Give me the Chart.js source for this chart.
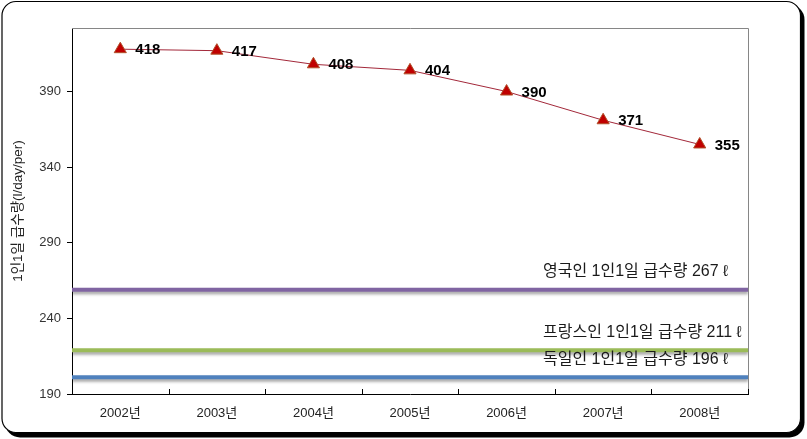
<!DOCTYPE html>
<html>
<head>
<meta charset="utf-8">
<script src="https://cdn.jsdelivr.net/npm/chart.js@4/dist/chart.umd.min.js"></script>
<style>
  html, body { margin: 0; padding: 0; background: #fff; }
  #wrap { width: 807px; height: 439px; position: relative; }
</style>
</head>
<body>
<div id="wrap"><canvas id="chart"></canvas></div>
<script>
'use strict';

/* data */
const YEARS = ['2002년', '2003년', '2004년', '2005년', '2006년', '2007년', '2008년'];
const SUPPLY = [418, 417, 408, 404, 390, 371, 355];
const Y_TICKS = [190, 240, 290, 340, 390];
const Y_MIN = 190;
const Y_MAX = 432;

// 비교 기준선: 그림에 그려진 높이 / 라벨 문구
const REF_LABELS = ['영국인 1인1일 급수량 267 ℓ', '프랑스인 1인1일 급수량 211 ℓ', '독일인 1인1일 급수량 196 ℓ'];
const REF_LEVELS = [259, 219, 201];
const REF_COLORS = ['#8064A2', '#9BBB59', '#4F81BD'];

const FONT = "'Liberation Sans', 'Noto Sans CJK KR', sans-serif";

/* ── frame with rounded corners + heavy shadow on right/bottom ── */
const framePlugin = {
  id: 'frame',
  beforeDraw(chart) {
    const ctx = chart.ctx;
    ctx.save();
    ctx.fillStyle = '#fff';
    ctx.fillRect(0, 0, chart.width, chart.height);
    ctx.fillStyle = '#000';
    ctx.beginPath();
    ctx.roundRect(5, 4.5, 799.5, 433, 15);
    ctx.fill();
    ctx.fillStyle = '#fff';
    ctx.strokeStyle = '#000';
    ctx.lineWidth = 1.2;
    ctx.beginPath();
    ctx.roundRect(2, 1.5, 798.5, 431, 14);
    ctx.fill();
    ctx.stroke();
    ctx.restore();
  },
  afterDraw(chart) {
    const { ctx, chartArea: a, scales } = chart;
    ctx.save();
    // plot border top/right in grey
    ctx.strokeStyle = '#868686';
    ctx.lineWidth = 1;
    ctx.beginPath();
    ctx.moveTo(a.left, a.top + 0.5);
    ctx.lineTo(a.right + 0.5, a.top + 0.5);
    ctx.lineTo(a.right + 0.5, a.bottom);
    ctx.stroke();
    // inward tick marks between categories
    const x = scales.x;
    ctx.strokeStyle = '#000';
    ctx.beginPath();
    for (let i = 0; i <= YEARS.length; i++) {
      const px = Math.round(x.getPixelForValue(i - 0.5)) + 0.5;
      ctx.moveTo(px, a.bottom);
      ctx.lineTo(px, a.bottom - 5);
    }
    ctx.stroke();
    ctx.restore();
  },
};

/* ── soft shadow under the reference lines ── */
const shadowPlugin = {
  id: 'refShadow',
  beforeDatasetDraw(chart, args) {
    if (args.index === 0) return;
    const ctx = chart.ctx;
    ctx.save();
    ctx.shadowColor = 'rgba(0,0,0,0.35)';
    ctx.shadowBlur = 3;
    ctx.shadowOffsetY = 2.5;
  },
  afterDatasetDraw(chart, args) {
    if (args.index === 0) return;
    chart.ctx.restore();
  },
};

/* ── value labels and reference captions ── */
const labelPlugin = {
  id: 'labels',
  afterDatasetsDraw(chart) {
    const { ctx, chartArea: a } = chart;
    ctx.save();
    ctx.textBaseline = 'middle';
    ctx.textAlign = 'left';
    ctx.fillStyle = '#000';
    ctx.font = "bold 15px 'Liberation Sans', Arial, sans-serif";
    chart.getDatasetMeta(0).data.forEach((pt, i) => {
      ctx.fillText(String(SUPPLY[i]), pt.x + 15, pt.y + 1);
    });
    ctx.font = "16px " + FONT;
    ctx.fillStyle = '#1a1a1a';
    REF_LABELS.forEach((txt, i) => {
      const py = chart.scales.y.getPixelForValue(REF_LEVELS[i]);
      ctx.fillText(txt, a.left + 471, py - 18);
    });
    ctx.restore();
  },
};

const refDatasets = REF_LEVELS.map((v, i) => ({
  type: 'line',
  label: REF_LABELS[i],
  xAxisID: 'xr',
  data: [{ x: 0, y: v }, { x: 1, y: v }],
  borderColor: REF_COLORS[i],
  borderWidth: 4,
  pointRadius: 0,
  borderCapStyle: 'butt',
}));

new Chart(document.getElementById('chart'), {
  type: 'line',
  data: {
    labels: YEARS,
    datasets: [{
      label: '1인1일 급수량',
      data: SUPPLY,
      borderColor: '#A3283A',
      borderWidth: 1,
      pointStyle: 'triangle',
      pointRadius: 7,
      pointBackgroundColor: '#C00000',
      pointBorderColor: '#B0502A',
      pointBorderWidth: 1,
      tension: 0,
    }, ...refDatasets],
  },
  options: {
    responsive: true,
    maintainAspectRatio: false,
    animation: false,
    layout: { padding: { left: 0, top: 28, right: 59, bottom: 0 } },
    plugins: {
      legend: { display: false },
      tooltip: { enabled: false },
    },
    scales: {
      x: {
        type: 'category',
        offset: true,
        grid: { display: false, drawTicks: false },
        border: { color: '#000', width: 1 },
        ticks: {
          padding: 12,
          color: '#222',
          font: { family: FONT, size: 13 },
        },
        afterFit: s => { s.height = 45; },
      },
      xr: {
        type: 'linear',
        min: 0,
        max: 1,
        display: false,
      },
      y: {
        min: Y_MIN,
        max: Y_MAX,
        afterBuildTicks: s => { s.ticks = Y_TICKS.map(v => ({ value: v })); },
        grid: { drawOnChartArea: false, tickLength: 5, color: '#000' },
        border: { color: '#000', width: 1 },
        ticks: {
          padding: 6,
          color: '#333',
          font: { family: FONT, size: 13 },
        },
        title: {
          display: true,
          text: '1인1일 급수량(l/day/per)',
          color: '#222',
          font: { family: FONT, size: 13.5 },
          padding: { top: 10, bottom: 0 },
        },
        afterFit: s => { s.width = 72; },
      },
    },
  },
  plugins: [framePlugin, shadowPlugin, labelPlugin],
});
</script>
</body>
</html>
